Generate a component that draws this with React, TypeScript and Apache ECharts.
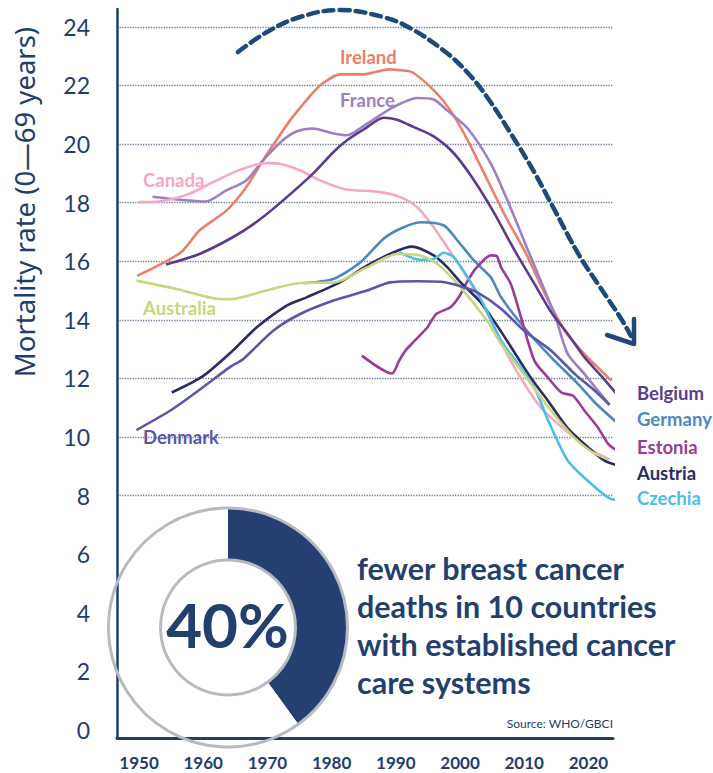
import { useEffect, useRef } from 'react';
import * as echarts from 'echarts';

// ---------- data ----------
const xTickYears = [1950, 1960, 1970, 1980, 1990, 2000, 2010, 2020];
const yTickValues = [0, 2, 4, 6, 8, 10, 12, 14, 16, 18, 20, 22, 24];
const gridValues = [8, 10, 12, 14, 16, 18, 20, 22, 24];

const ireland = [
  [1949.7, 15.5], [1956.5, 16.3], [1959.4, 17.05], [1963.6, 17.73], [1966.7, 18.53], [1969.3, 19.44],
  [1971.4, 20.13], [1973.5, 20.8], [1976.1, 21.5], [1978.2, 22.0], [1981.3, 22.38], [1985, 22.38],
  [1988.9, 22.55], [1990.7, 22.52], [1992.5, 22.46], [1995.9, 21.84], [1998.5, 21.15], [2001.2, 20.13],
  [2004.3, 18.76], [2007.4, 17.4], [2010.2, 16.3], [2013.2, 14.9], [2016.3, 13.63], [2019.4, 12.83], [2023.6, 11.92],
];
const france = [
  [1952.1, 18.2], [1956.3, 18.1], [1960.4, 18.04], [1963.6, 18.42], [1966.7, 18.76], [1969.3, 19.44],
  [1972.4, 20.13], [1974.5, 20.43], [1977.1, 20.53], [1980.3, 20.36], [1982.4, 20.3], [1985.5, 20.7],
  [1989.7, 21.27], [1993.3, 21.57], [1995.9, 21.52], [1998, 21.15], [2001.2, 20.53], [2004.8, 19.33],
  [2007.4, 18.07], [2010.6, 16.37], [2013.2, 15.0], [2015.0, 14.0], [2016.8, 12.83], [2019.4, 12.15],
  [2021.5, 11.58], [2023.3, 11.1],
];
const canada = [
  [1950, 18.02], [1953.1, 18.04], [1957.8, 18.3], [1961.5, 18.7], [1965.7, 19.12], [1969.8, 19.35],
  [1971.9, 19.33], [1975.1, 19.1], [1978.2, 18.76], [1981.9, 18.47], [1987.6, 18.36], [1990.7, 18.19],
  [1993.3, 17.85], [1995.9, 17.16], [1998, 16.48], [2000.1, 15.8], [2002.6, 14.9], [2005, 13.9],
  [2007.9, 12.6], [2012.6, 11.0], [2017.8, 9.98], [2020.5, 9.55], [2023.3, 9.24],
];
const belgium = [
  [1954.2, 15.89], [1959.4, 16.25], [1964.6, 16.82], [1968.6, 17.39], [1972.4, 18.07], [1977.1, 18.99],
  [1980.3, 19.73], [1982.4, 20.13], [1985, 20.5], [1988.1, 20.9], [1990.2, 20.83], [1992.8, 20.58],
  [1995.9, 20.26], [1999.1, 19.67], [2002.2, 18.76], [2005.4, 17.62], [2008.5, 16.37], [2011.6, 15.23],
  [2014.2, 14.26], [2016.8, 13.52], [2019.4, 12.72], [2022, 12.09], [2024.4, 11.47],
];
const germany = [
  [1975.6, 15.25], [1980.3, 15.4], [1984.5, 15.97], [1988.1, 16.77], [1990.7, 17.11], [1993.8, 17.33],
  [1997.5, 17.22], [1999.6, 16.71], [2002.2, 16.02], [2004.8, 15.45], [2006.4, 14.77], [2010, 13.74],
  [2014.2, 12.72], [2018.4, 11.81], [2021, 11.18], [2024.4, 10.5],
];
const estonia = [
  [1984.7, 12.78], [1989.4, 12.17], [1990.5, 12.6], [1991.5, 12.95], [1992.9, 13.28], [1994.9, 13.74],
  [1996.3, 14.2], [1998.5, 14.43], [1999.8, 14.77], [2001.2, 15.34], [2002.6, 15.79], [2004.8, 16.2],
  [2005.7, 16.18], [2006.4, 15.79], [2007.9, 15.23], [2009.5, 14.09], [2011.6, 12.6], [2013.7, 12.03],
  [2015.8, 11.52], [2017.6, 11.41], [2019.4, 10.9], [2021.5, 10.32], [2023.1, 9.76], [2024.4, 9.55],
];
const austria = [
  [1955.1, 11.52], [1959.9, 12.07], [1964.6, 12.95], [1968.3, 13.74], [1973, 14.49], [1976.1, 14.77],
  [1981.3, 15.28], [1985.5, 15.85], [1989.7, 16.31], [1992.5, 16.5], [1995.9, 16.2], [1998, 15.8],
  [2000.1, 15.28], [2003.2, 14.6], [2006.4, 13.6], [2011, 12.03], [2013.7, 11.24], [2016.8, 10.3],
  [2020, 9.64], [2022.5, 9.2], [2025.6, 8.96],
];
const czechia = [
  [1990.5, 16.31], [1993.8, 16.05], [1995.9, 16.08], [1997.5, 16.29], [1999, 16.14], [2001.2, 15.45],
  [2003.5, 14.6], [2006.4, 13.29], [2009, 12.51], [2011.6, 11.69], [2013.7, 10.58], [2016.8, 9.19],
  [2020.5, 8.39], [2023.6, 7.88], [2025.6, 7.85],
];
const australia = [
  [1949.6, 15.34], [1955.7, 15.06], [1961.5, 14.74], [1964.4, 14.71], [1969.8, 15.0], [1975.1, 15.26],
  [1980.3, 15.27], [1985.5, 15.79], [1990.2, 16.25], [1993.8, 16.2], [1996.5, 15.91], [2000.1, 15.11],
  [2004.2, 13.97], [2006.4, 13.18], [2010.6, 11.95], [2014.2, 10.9], [2017.8, 9.98], [2020.5, 9.5], [2023.1, 9.24],
];
const denmark = [
  [1949.6, 10.24], [1955.2, 10.95], [1959.9, 11.69], [1964.1, 12.38], [1966.2, 12.66], [1970.9, 13.63],
  [1975.1, 14.2], [1980.3, 14.66], [1985.5, 15.0], [1989.1, 15.28], [1993.3, 15.32], [1997, 15.3],
  [2000.1, 15.15], [2002.7, 14.94], [2006.4, 14.38], [2010, 13.63], [2014.2, 12.95], [2017.9, 12.15],
  [2021, 11.58], [2023.3, 11.1],
];

const countryNames = ['Ireland', 'France', 'Canada', 'Belgium', 'Germany', 'Estonia', 'Austria', 'Czechia', 'Australia', 'Denmark'];
const countrySeries = [ireland, france, canada, belgium, germany, estonia, austria, czechia, australia, denmark];

const donutShare = [40, 60];
const headline = ['fewer breast cancer', 'deaths in 10 countries', 'with established cancer', 'care systems'];

// ---------- styles ----------
const NAVY = '#1f3d6d';
const FONT = 'Lato, "Noto Sans", sans-serif';
const countryColors: Record<string, string> = {
  Ireland: '#ea806b',
  France: '#9d80c2',
  Canada: '#f5a8bf',
  Belgium: '#5c3b8f',
  Germany: '#4a87c6',
  Estonia: '#9b3b97',
  Austria: '#2b2b63',
  Czechia: '#4bbde9',
  Australia: '#c9d57f',
  Denmark: '#5b56a9',
};

const labelPositions: Record<string, [number, number]> = {
  Ireland: [340, 57],
  France: [340, 100],
  Canada: [143, 180],
  Australia: [143, 308],
  Denmark: [143, 437],
  Belgium: [637, 393],
  Germany: [637, 419],
  Estonia: [637, 447],
  Austria: [637, 473],
  Czechia: [637, 498],
};

function buildOption() {
  const lineSeries = countryNames.map((name, i) => ({
    name,
    type: 'line',
    data: countrySeries[i],
    showSymbol: false,
    smooth: 0.25,
    clip: false,
    z: 4,
    silent: true,
    lineStyle: { color: countryColors[name], width: 2.6 },
    itemStyle: { color: countryColors[name] },
  }));

  const pie = {
    type: 'pie',
    center: [228, 627.5],
    radius: [68, 119],
    startAngle: 90,
    clockwise: true,
    silent: true,
    z: 1,
    label: { show: false },
    labelLine: { show: false },
    emphasis: { disabled: true },
    data: donutShare.map((v, i) => ({ value: v, itemStyle: { color: i === 0 ? '#243f70' : '#ffffff' } })),
  };

  const labelTexts = countryNames.map((name) => ({
    type: 'text',
    x: labelPositions[name][0],
    y: labelPositions[name][1],
    z: 10,
    style: {
      text: name,
      fill: countryColors[name],
      font: `bold 18.5px ${FONT}`,
      textAlign: 'left',
      textVerticalAlign: 'middle',
    },
  }));

  const graphic = [
    {
      type: 'text',
      x: 24,
      y: 202,
      rotation: Math.PI / 2,
      z: 10,
      style: {
        text: 'Mortality rate (0—69 years)',
        fill: NAVY,
        font: `27.5px "Noto Sans", sans-serif`,
        textAlign: 'center',
        textVerticalAlign: 'middle',
      },
    },
    ...labelTexts,
    {
      type: 'circle',
      z: 10,
      shape: { cx: 228, cy: 627.5, r: 119.5 },
      style: { fill: 'none', stroke: '#b7bac1', lineWidth: 3 },
    },
    {
      type: 'circle',
      z: 10,
      shape: { cx: 228, cy: 627.5, r: 67.5 },
      style: { fill: 'none', stroke: '#b7bac1', lineWidth: 3 },
    },
    {
      type: 'text',
      x: 227.5,
      y: 624,
      z: 11,
      style: {
        text: `${donutShare[0]}%`,
        fill: '#233f6e',
        font: `bold 62px ${FONT}`,
        textAlign: 'center',
        textVerticalAlign: 'middle',
      },
    },
    {
      type: 'text',
      x: 357,
      y: 549,
      z: 10,
      style: {
        text: headline.join('\n'),
        fill: '#233f6e',
        font: `bold 30.5px ${FONT}`,
        lineHeight: 38,
        textAlign: 'left',
        textVerticalAlign: 'top',
      },
    },
    {
      type: 'text',
      x: 613,
      y: 723,
      z: 10,
      style: {
        text: 'Source: WHO/GBCI',
        fill: NAVY,
        font: `12px ${FONT}`,
        textAlign: 'right',
        textVerticalAlign: 'middle',
      },
    },
    {
      type: 'polyline',
      z: 10,
      shape: {
        points: [
          [238, 52], [267, 32], [300, 17], [340, 10], [383, 17], [410, 28], [443, 50], [467, 72],
          [487, 97], [513, 137], [533, 170], [553, 207], [579, 255], [600, 287], [620, 317], [631, 336],
        ],
        smooth: 0.4,
      },
      style: { fill: 'none', stroke: '#1e4a7a', lineWidth: 4.5, lineDash: [10, 6], lineCap: 'round' },
    },
    {
      type: 'polyline',
      z: 10,
      shape: { points: [[607, 335], [634, 344], [634, 319]] },
      style: { fill: 'none', stroke: '#1e4a7a', lineWidth: 4.5, lineCap: 'round', lineJoin: 'round' },
    },
  ];

  return {
    animation: false,
    backgroundColor: '#ffffff',
    grid: { left: 117, right: 100, top: 9, bottom: 35, containLabel: false },
    xAxis: {
      type: 'value',
      min: 1946.57,
      max: 2023.83,
      z: 3,
      axisLine: { show: true, onZero: false, lineStyle: { color: NAVY, width: 3 } },
      axisTick: { show: false },
      splitLine: { show: false },
      axisLabel: {
        customValues: xTickYears,
        formatter: (v: number) => String(v),
        margin: 16,
        color: NAVY,
        fontFamily: FONT,
        fontWeight: 'bold',
        fontSize: 17,
        lineHeight: 17,
      },
    },
    yAxis: {
      type: 'value',
      min: -0.27,
      max: 24.61,
      z: 3,
      axisLine: { show: true, onZero: false, lineStyle: { color: NAVY, width: 2.5 } },
      axisTick: { show: false, customValues: gridValues },
      axisLabel: {
        customValues: yTickValues,
        margin: 27,
        color: NAVY,
        fontFamily: FONT,
        fontSize: 23,
      },
      splitLine: { show: true, lineStyle: { type: 'dotted', color: '#6c7a98', width: 1.3 } },
    },
    series: [pie, ...lineSeries],
    graphic,
  };
}

export default function App() {
  const ref = useRef<HTMLDivElement>(null);
  useEffect(() => {
    if (!ref.current) return;
    const chart = echarts.init(ref.current, null, { renderer: 'svg' });
    chart.setOption(buildOption() as any);
    return () => chart.dispose();
  }, []);
  return (
    <div
      ref={ref}
      style={{ position: 'fixed', left: 0, top: 0, width: 713, height: 773, background: '#fff' }}
    />
  );
}
